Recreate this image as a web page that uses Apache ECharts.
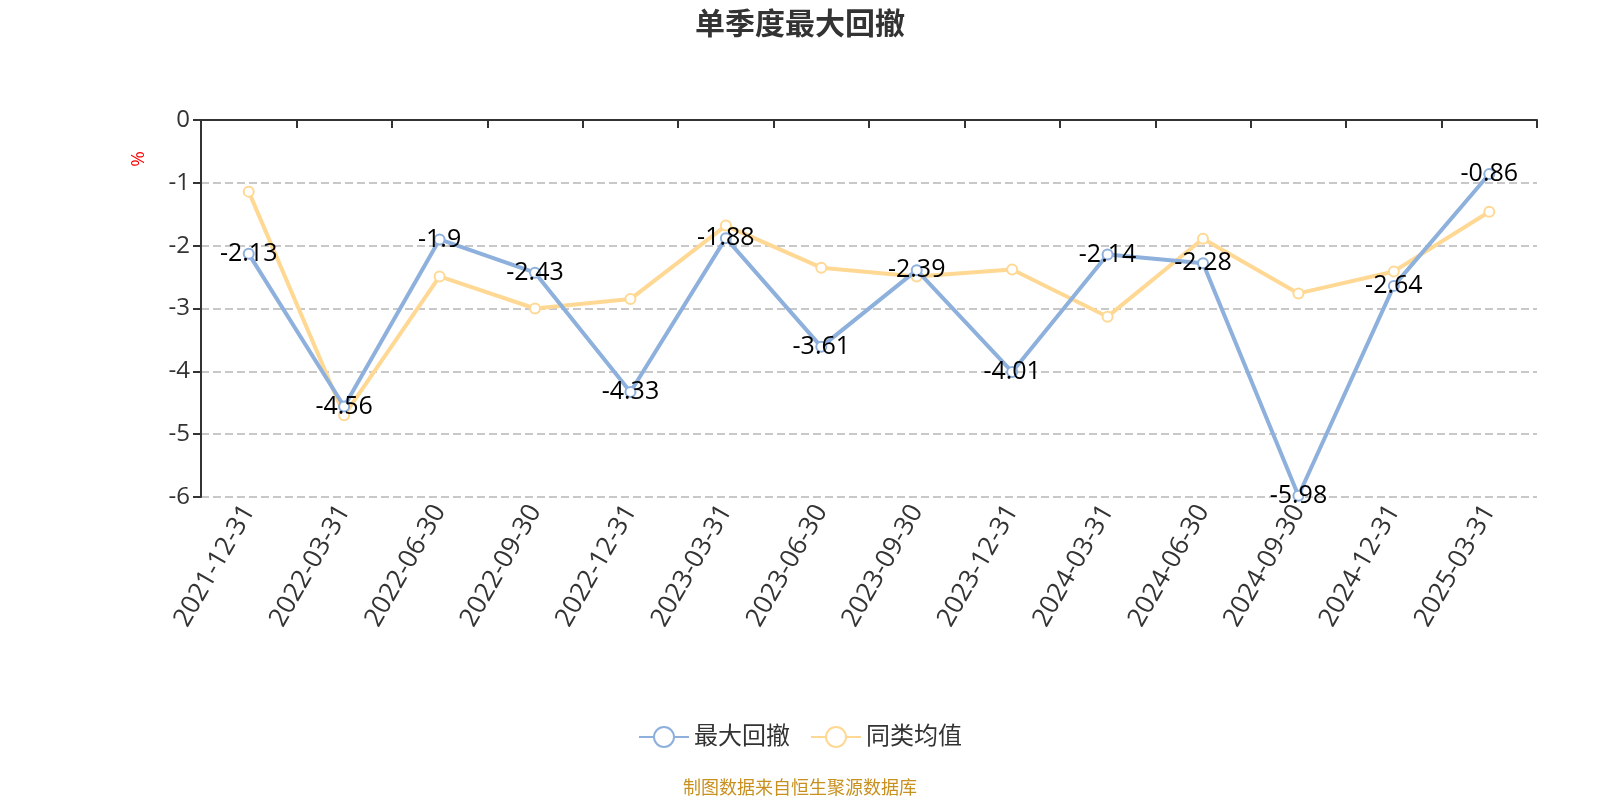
<!DOCTYPE html>
<html lang="zh">
<head>
    <meta charset="UTF-8">
    <title>单季度最大回撤</title>
    <script src="https://cdn.jsdelivr.net/npm/echarts@6/dist/echarts.min.js"></script>
</head>
<body style="margin:0;">
    <div id="main" style="width:1600px;height:800px;"></div>
    <script type="text/javascript">
        // quarter end dates
        const categories = ['2021-12-31', '2022-03-31', '2022-06-30', '2022-09-30', '2022-12-31',
            '2023-03-31', '2023-06-30', '2023-09-30', '2023-12-31', '2024-03-31',
            '2024-06-30', '2024-09-30', '2024-12-31', '2025-03-31'];
        // fund drawdown (labelled)
        const maxDrawdown = [-2.13, -4.56, -1.9, -2.43, -4.33, -1.88, -3.61, -2.39, -4.01, -2.14, -2.28, -5.98, -2.64, -0.86];
        // peer average
        const peerAvg = [-1.14, -4.70, -2.49, -3.00, -2.85, -1.68, -2.35, -2.49, -2.38, -3.13, -1.89, -2.76, -2.41, -1.46];

        const myChart = echarts.init(document.getElementById('main'));

        const font = '"Open Sans", "Noto Sans CJK SC", sans-serif';

        const option = {
            textStyle: { fontFamily: font },
            title: {
                text: '单季度最大回撤',
                left: 'center',
                top: 5,
                textStyle: { fontSize: 30, fontWeight: 'bold', color: '#333', fontFamily: font }
            },
            legend: {
                bottom: 46,
                left: 'center',
                itemWidth: 50,
                itemHeight: 25,
                itemGap: 20,
                textStyle: { fontSize: 24, color: '#333', fontFamily: font },
                data: ['最大回撤', '同类均值']
            },
            grid: { left: 201, right: 63, top: 120, bottom: 303 },
            graphic: [{
                type: 'text',
                left: 129,
                top: 151,
                rotation: Math.PI / 2,
                style: { text: '%', fill: '#ff0000', fontSize: 19, fontFamily: font }
            }, {
                type: 'text',
                left: 'center',
                bottom: 2,
                style: { text: '制图数据来自恒生聚源数据库', fill: '#c8901e', fontSize: 18, fontFamily: font }
            }],
            xAxis: [{
                type: 'category',
                data: categories,
                position: 'bottom',
                axisLine: { show: false, onZero: false },
                axisTick: { show: false },
                axisLabel: { rotate: 60, fontSize: 26, color: '#333', margin: 10, interval: 0, fontFamily: font }
            }, {
                type: 'category',
                data: categories,
                position: 'top',
                axisLine: { show: true, onZero: false, lineStyle: { color: '#333', width: 2 } },
                axisTick: { show: true, inside: true, length: 8, lineStyle: { color: '#333', width: 2 } },
                axisLabel: { show: false }
            }],
            yAxis: {
                type: 'value',
                min: -6,
                max: 0,
                interval: 1,
                axisLine: { show: true, lineStyle: { color: '#333', width: 2 } },
                axisTick: { show: true, length: 8, lineStyle: { color: '#333', width: 2 } },
                axisLabel: { fontSize: 24, color: '#333', margin: 11, fontFamily: font },
                splitLine: { lineStyle: { type: 'dashed', color: '#c8c8c8', width: 2 } }
            },
            series: [{
                name: '最大回撤',
                type: 'line',
                data: maxDrawdown,
                symbol: 'emptyCircle',
                symbolSize: 10,
                itemStyle: { color: '#8eb0dc' },
                lineStyle: { width: 4, color: '#8eb0dc' },
                label: { show: true, position: 'inside', color: '#000', fontSize: 25, fontFamily: font },
                z: 3
            }, {
                name: '同类均值',
                type: 'line',
                data: peerAvg,
                symbol: 'emptyCircle',
                symbolSize: 10,
                itemStyle: { color: '#ffd894' },
                lineStyle: { width: 4, color: '#ffd894' },
                z: 2
            }]
        };

        myChart.setOption(option);
    </script>
</body>
</html>
